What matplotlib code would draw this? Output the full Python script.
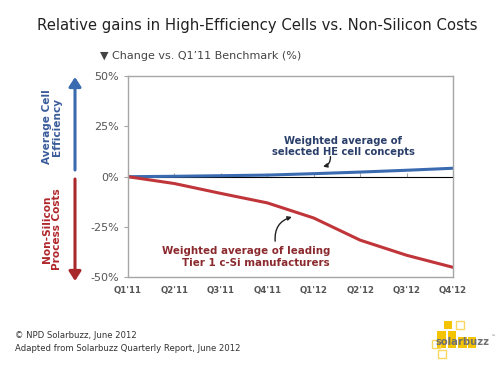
import matplotlib
matplotlib.use("Agg")
import matplotlib.pyplot as plt
from matplotlib.patches import Rectangle, FancyArrowPatch

quarters = ["Q1'11", "Q2'11", "Q3'11", "Q4'11", "Q1'12", "Q2'12", "Q3'12", "Q4'12"]
he_cells = [0.0, 0.2, 0.5, 0.8, 1.5, 2.3, 3.2, 4.2]
non_si = [0.0, -3.4, -8.3, -13.0, -20.5, -31.5, -39.0, -45.0]
yticks = [-50, -25, 0, 25, 50]
ytick_labels = ["-50%", "-25%", "0%", "25%", "50%"]

BLUE = "#3A6BB0"
RED = "#C0353A"
GRAY = "#A6A6A6"

fig = plt.figure(figsize=(5, 3.8), dpi=100)
ax = fig.add_axes([0.256, 0.27, 0.65, 0.53])
x = list(range(len(quarters)))
ax.plot(x, he_cells, color=BLUE, lw=2.2, solid_capstyle="round")
ax.plot(x, non_si, color=RED, lw=2.2, solid_capstyle="round")
ax.set_xlim(0, len(quarters) - 1)
ax.set_ylim(-50, 50)
ax.set_yticks(yticks)
ax.set_yticklabels(ytick_labels, fontsize=8, color="#555555")
ax.set_xticks(x)
ax.set_xticklabels(quarters, fontsize=6.2, color="#555555", fontweight="bold")
ax.tick_params(axis="x", length=0, pad=6)
ax.tick_params(axis="y", length=3, color=GRAY, direction="out")
for s in ax.spines.values():
    s.set_color(GRAY)
    s.set_linewidth(1.0)

sec = ax.secondary_xaxis(0.5)
sec.set_xticks(x)
sec.tick_params(axis="x", length=3, color=GRAY, direction="out", labelbottom=False, labeltop=False)
sec.spines["bottom"].set_color(GRAY)
sec.set_xticklabels([])

# annotations
ax.text(4.63, 15, "Weighted average of\nselected HE cell concepts",
        ha="center", va="center", fontsize=7.2, fontweight="bold", color="#2B3F6B")
ax.annotate("", xy=(4.2, 5), xytext=(4.36, 10),
            arrowprops=dict(arrowstyle="-|>", color="#222222", lw=1.0, mutation_scale=6,
                            connectionstyle="arc3,rad=-0.4", shrinkA=0, shrinkB=0))
ax.text(4.35, -40, "Weighted average of leading\nTier 1 c-Si manufacturers",
        ha="right", va="center", multialignment="right", fontsize=7.4, fontweight="bold",
        color="#8B2A2E")
ax.annotate("", xy=(3.53, -20), xytext=(3.17, -32),
            arrowprops=dict(arrowstyle="-|>", color="#222222", lw=1.0, mutation_scale=6,
                            connectionstyle="arc3,rad=-0.4", shrinkA=0, shrinkB=0))

# titles
fig.text(0.514, 0.934, "Relative gains in High-Efficiency Cells vs. Non-Silicon Costs",
         ha="center", va="center", fontsize=10.7, color="#222222")
fig.text(0.2, 0.852, "\u25BC Change vs. Q1\u201911 Benchmark (%)", ha="left", va="center",
         fontsize=8, color="#444444")

# side arrows
fig.add_artist(FancyArrowPatch((0.15, 1 - 170 / 380), (0.15, 1 - 77 / 380), transform=fig.transFigure,
                               arrowstyle="-|>,head_length=2.8,head_width=1.8", color=BLUE, lw=2.2,
                               mutation_scale=2, shrinkA=0, shrinkB=0))
fig.add_artist(FancyArrowPatch((0.15, 1 - 179 / 380), (0.15, 1 - 281 / 380), transform=fig.transFigure,
                               arrowstyle="-|>,head_length=2.8,head_width=1.8", color="#A8282C", lw=2.2,
                               mutation_scale=2, shrinkA=0, shrinkB=0))
fig.text(0.104, 1 - 127 / 380, "Average Cell\nEfficiency", rotation=90, ha="center", va="center",
         fontsize=7.6, fontweight="bold", color="#3A5C9A", linespacing=1.0)
fig.text(0.104, 1 - 229 / 380, "Non-Silicon\nProcess Costs", rotation=90, ha="center", va="center",
         fontsize=7.6, fontweight="bold", color="#B0282C", linespacing=1.0)

# footer
fig.text(0.03, 1 - 342 / 380, "\u00A9 NPD Solarbuzz, June 2012\nAdapted from Solarbuzz Quarterly Report, June 2012",
         ha="left", va="center", fontsize=6.1, color="#333333", linespacing=1.45)

# logo
W, H = 500.0, 380.0
def rect(x0, y0, w, h, fill):
    if fill:
        r = Rectangle((x0 / W, 1 - (y0 + h) / H), w / W, h / H, transform=fig.transFigure,
                      facecolor="#F5C400", edgecolor="none")
    else:
        r = Rectangle((x0 / W, 1 - (y0 + h) / H), w / W, h / H, transform=fig.transFigure,
                      facecolor="none", edgecolor="#F8D860", lw=1.0)
    fig.add_artist(r)
rect(444, 321, 8, 8, True)
rect(456, 321, 8, 8, False)
rect(437, 331, 9, 17, True)
rect(448, 331, 8, 17, True)
rect(458, 337, 9, 11, True)
rect(468, 337, 8, 11, True)
rect(432, 340, 8, 8, False)
rect(438, 350, 8, 8, False)
fig.text(435 / W, 1 - 342 / H, "solarbuzz", ha="left", va="center", fontsize=7.2,
         color="#707070", fontweight="bold")
fig.text(490 / W, 1 - 337 / H, "\u2122", ha="left", va="center", fontsize=3.5, color="#707070")

fig.savefig("out.png", dpi=100)
